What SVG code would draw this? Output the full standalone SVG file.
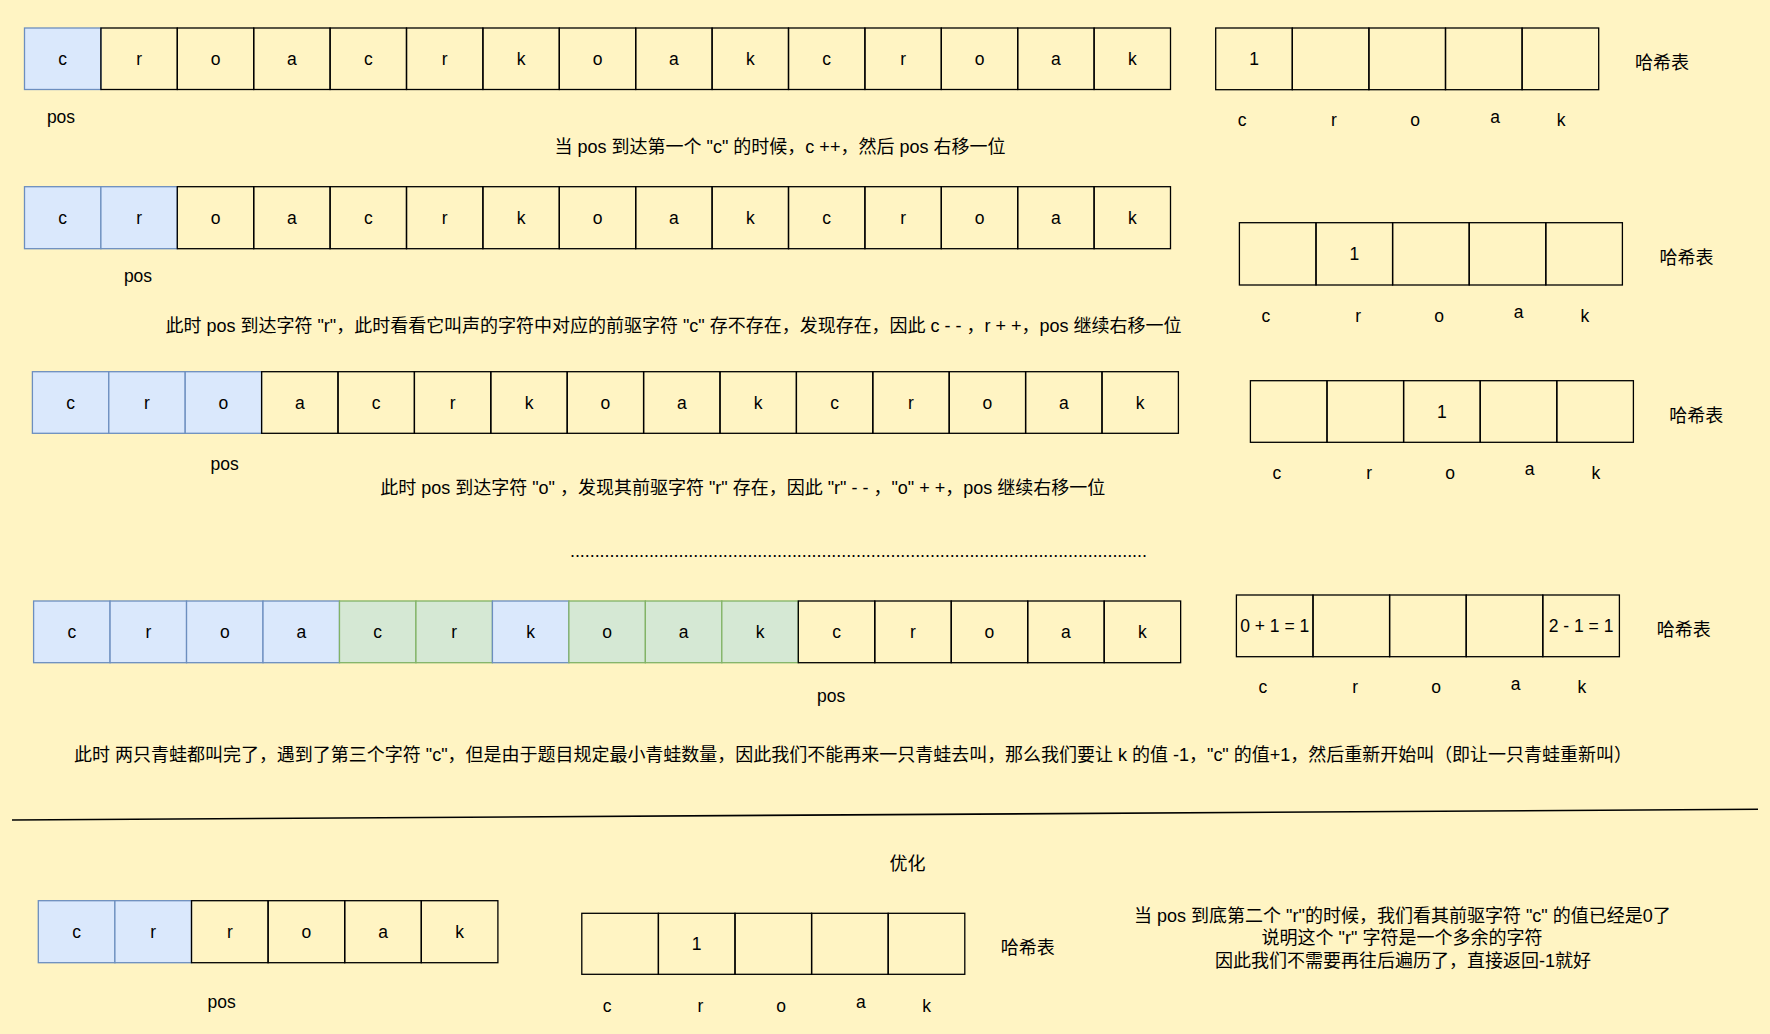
<svg xmlns="http://www.w3.org/2000/svg" width="1770" height="1034" viewBox="0 0 1770 1034">
<style>
text{font-family:"Liberation Sans","Noto Sans CJK SC",sans-serif;font-size:18px;fill:#000;text-anchor:middle}
.cl{font-size:17.5px}
.cell{fill:none;stroke:#000;stroke-width:1.3}
.blue{fill:#dae8fc;stroke:#6c8ebf;stroke-width:1.3}
.green{fill:#d5e8d4;stroke:#82b366;stroke-width:1.3}
.sep{stroke:#000;stroke-width:1.6;fill:none}
</style>
<rect width="1770" height="1034" fill="#fff4c3"/>

<!-- Row 1 -->
<g id="row1">
<g id="r1c1"><rect class="blue" x="24.5" y="28" width="76.4" height="61.5"/><text class="cl" x="62.7" y="65.3">c</text></g>
<g id="r1c2"><rect class="cell" x="100.9" y="28" width="76.4" height="61.5"/><text class="cl" x="139.1" y="65.3">r</text></g>
<g id="r1c3"><rect class="cell" x="177.3" y="28" width="76.4" height="61.5"/><text class="cl" x="215.5" y="65.3">o</text></g>
<g id="r1c4"><rect class="cell" x="253.7" y="28" width="76.4" height="61.5"/><text class="cl" x="291.9" y="65.3">a</text></g>
<g id="r1c5"><rect class="cell" x="330.1" y="28" width="76.4" height="61.5"/><text class="cl" x="368.3" y="65.3">c</text></g>
<g id="r1c6"><rect class="cell" x="406.5" y="28" width="76.4" height="61.5"/><text class="cl" x="444.7" y="65.3">r</text></g>
<g id="r1c7"><rect class="cell" x="482.9" y="28" width="76.4" height="61.5"/><text class="cl" x="521.1" y="65.3">k</text></g>
<g id="r1c8"><rect class="cell" x="559.3" y="28" width="76.4" height="61.5"/><text class="cl" x="597.5" y="65.3">o</text></g>
<g id="r1c9"><rect class="cell" x="635.7" y="28" width="76.4" height="61.5"/><text class="cl" x="673.9" y="65.3">a</text></g>
<g id="r1c10"><rect class="cell" x="712.1" y="28" width="76.4" height="61.5"/><text class="cl" x="750.3" y="65.3">k</text></g>
<g id="r1c11"><rect class="cell" x="788.5" y="28" width="76.4" height="61.5"/><text class="cl" x="826.7" y="65.3">c</text></g>
<g id="r1c12"><rect class="cell" x="864.9" y="28" width="76.4" height="61.5"/><text class="cl" x="903.1" y="65.3">r</text></g>
<g id="r1c13"><rect class="cell" x="941.3" y="28" width="76.4" height="61.5"/><text class="cl" x="979.5" y="65.3">o</text></g>
<g id="r1c14"><rect class="cell" x="1017.7" y="28" width="76.4" height="61.5"/><text class="cl" x="1055.9" y="65.3">a</text></g>
<g id="r1c15"><rect class="cell" x="1094.1" y="28" width="76.4" height="61.5"/><text class="cl" x="1132.3" y="65.3">k</text></g>
</g>
<g id="pos1"><text class="cl" x="61" y="123">pos</text></g>
<g id="note1"><text x="780" y="152.5">当 pos 到达第一个 "c" 的时候，c ++，然后 pos 右移一位</text></g>

<g id="hash1">
<g id="h1c1"><rect class="cell" x="1215.7" y="28" width="76.6" height="61.7"/><text class="cl" x="1254" y="65.3">1</text></g>
<g id="h1c2"><rect class="cell" x="1292.3" y="28" width="76.6" height="61.7"/></g>
<g id="h1c3"><rect class="cell" x="1368.9" y="28" width="76.6" height="61.7"/></g>
<g id="h1c4"><rect class="cell" x="1445.5" y="28" width="76.6" height="61.7"/></g>
<g id="h1c5"><rect class="cell" x="1522.1" y="28" width="76.6" height="61.7"/></g>
<text class="cl" x="1242" y="126">c</text><text class="cl" x="1334" y="126">r</text><text class="cl" x="1415" y="126">o</text><text class="cl" x="1495" y="122.5">a</text><text class="cl" x="1561" y="126">k</text>
<text x="1662" y="68.5">哈希表</text>
</g>

<!-- Row 2 -->
<g id="row2">
<g id="r2c1"><rect class="blue" x="24.5" y="186.7" width="76.4" height="62"/><text class="cl" x="62.7" y="224.2">c</text></g>
<g id="r2c2"><rect class="blue" x="100.9" y="186.7" width="76.4" height="62"/><text class="cl" x="139.1" y="224.2">r</text></g>
<g id="r2c3"><rect class="cell" x="177.3" y="186.7" width="76.4" height="62"/><text class="cl" x="215.5" y="224.2">o</text></g>
<g id="r2c4"><rect class="cell" x="253.7" y="186.7" width="76.4" height="62"/><text class="cl" x="291.9" y="224.2">a</text></g>
<g id="r2c5"><rect class="cell" x="330.1" y="186.7" width="76.4" height="62"/><text class="cl" x="368.3" y="224.2">c</text></g>
<g id="r2c6"><rect class="cell" x="406.5" y="186.7" width="76.4" height="62"/><text class="cl" x="444.7" y="224.2">r</text></g>
<g id="r2c7"><rect class="cell" x="482.9" y="186.7" width="76.4" height="62"/><text class="cl" x="521.1" y="224.2">k</text></g>
<g id="r2c8"><rect class="cell" x="559.3" y="186.7" width="76.4" height="62"/><text class="cl" x="597.5" y="224.2">o</text></g>
<g id="r2c9"><rect class="cell" x="635.7" y="186.7" width="76.4" height="62"/><text class="cl" x="673.9" y="224.2">a</text></g>
<g id="r2c10"><rect class="cell" x="712.1" y="186.7" width="76.4" height="62"/><text class="cl" x="750.3" y="224.2">k</text></g>
<g id="r2c11"><rect class="cell" x="788.5" y="186.7" width="76.4" height="62"/><text class="cl" x="826.7" y="224.2">c</text></g>
<g id="r2c12"><rect class="cell" x="864.9" y="186.7" width="76.4" height="62"/><text class="cl" x="903.1" y="224.2">r</text></g>
<g id="r2c13"><rect class="cell" x="941.3" y="186.7" width="76.4" height="62"/><text class="cl" x="979.5" y="224.2">o</text></g>
<g id="r2c14"><rect class="cell" x="1017.7" y="186.7" width="76.4" height="62"/><text class="cl" x="1055.9" y="224.2">a</text></g>
<g id="r2c15"><rect class="cell" x="1094.1" y="186.7" width="76.4" height="62"/><text class="cl" x="1132.3" y="224.2">k</text></g>
</g>
<g id="pos2"><text class="cl" x="138" y="281.5">pos</text></g>
<g id="note2"><text x="673.5" y="331.5" textLength="1016" lengthAdjust="spacing">此时 pos 到达字符 "r"，此时看看它叫声的字符中对应的前驱字符 "c" 存不存在，发现存在，因此 c - - ，r + +，pos 继续右移一位</text></g>

<g id="hash2">
<g id="h2c1"><rect class="cell" x="1239.4" y="222.7" width="76.6" height="62.3"/></g>
<g id="h2c2"><rect class="cell" x="1316" y="222.7" width="76.6" height="62.3"/><text class="cl" x="1354.3" y="260.3">1</text></g>
<g id="h2c3"><rect class="cell" x="1392.6" y="222.7" width="76.6" height="62.3"/></g>
<g id="h2c4"><rect class="cell" x="1469.2" y="222.7" width="76.6" height="62.3"/></g>
<g id="h2c5"><rect class="cell" x="1545.8" y="222.7" width="76.6" height="62.3"/></g>
<text class="cl" x="1265.8" y="321.7">c</text><text class="cl" x="1358.2" y="321.7">r</text><text class="cl" x="1439.2" y="321.7">o</text><text class="cl" x="1518.7" y="318.2">a</text><text class="cl" x="1584.9" y="321.7">k</text>
<text x="1686.4" y="264">哈希表</text>
</g>

<!-- Row 3 -->
<g id="row3">
<g id="r3c1"><rect class="blue" x="32.4" y="371.7" width="76.4" height="61.6"/><text class="cl" x="70.6" y="409">c</text></g>
<g id="r3c2"><rect class="blue" x="108.8" y="371.7" width="76.4" height="61.6"/><text class="cl" x="147" y="409">r</text></g>
<g id="r3c3"><rect class="blue" x="185.2" y="371.7" width="76.4" height="61.6"/><text class="cl" x="223.4" y="409">o</text></g>
<g id="r3c4"><rect class="cell" x="261.6" y="371.7" width="76.4" height="61.6"/><text class="cl" x="299.8" y="409">a</text></g>
<g id="r3c5"><rect class="cell" x="338" y="371.7" width="76.4" height="61.6"/><text class="cl" x="376.2" y="409">c</text></g>
<g id="r3c6"><rect class="cell" x="414.4" y="371.7" width="76.4" height="61.6"/><text class="cl" x="452.6" y="409">r</text></g>
<g id="r3c7"><rect class="cell" x="490.8" y="371.7" width="76.4" height="61.6"/><text class="cl" x="529" y="409">k</text></g>
<g id="r3c8"><rect class="cell" x="567.2" y="371.7" width="76.4" height="61.6"/><text class="cl" x="605.4" y="409">o</text></g>
<g id="r3c9"><rect class="cell" x="643.6" y="371.7" width="76.4" height="61.6"/><text class="cl" x="681.8" y="409">a</text></g>
<g id="r3c10"><rect class="cell" x="720" y="371.7" width="76.4" height="61.6"/><text class="cl" x="758.2" y="409">k</text></g>
<g id="r3c11"><rect class="cell" x="796.4" y="371.7" width="76.4" height="61.6"/><text class="cl" x="834.6" y="409">c</text></g>
<g id="r3c12"><rect class="cell" x="872.8" y="371.7" width="76.4" height="61.6"/><text class="cl" x="911" y="409">r</text></g>
<g id="r3c13"><rect class="cell" x="949.2" y="371.7" width="76.4" height="61.6"/><text class="cl" x="987.4" y="409">o</text></g>
<g id="r3c14"><rect class="cell" x="1025.6" y="371.7" width="76.4" height="61.6"/><text class="cl" x="1063.8" y="409">a</text></g>
<g id="r3c15"><rect class="cell" x="1102" y="371.7" width="76.4" height="61.6"/><text class="cl" x="1140.2" y="409">k</text></g>
</g>
<g id="pos3"><text class="cl" x="224.7" y="470">pos</text></g>
<g id="note3"><text x="742.7" y="493.5" textLength="725" lengthAdjust="spacing">此时 pos 到达字符 "o" ，发现其前驱字符 "r" 存在，因此 "r" - - ，"o" + +，pos 继续右移一位</text></g>

<g id="hash3">
<g id="h3c1"><rect class="cell" x="1250.4" y="380.7" width="76.6" height="61.6"/></g>
<g id="h3c2"><rect class="cell" x="1327" y="380.7" width="76.6" height="61.6"/></g>
<g id="h3c3"><rect class="cell" x="1403.6" y="380.7" width="76.6" height="61.6"/><text class="cl" x="1441.9" y="418">1</text></g>
<g id="h3c4"><rect class="cell" x="1480.2" y="380.7" width="76.6" height="61.6"/></g>
<g id="h3c5"><rect class="cell" x="1556.8" y="380.7" width="76.6" height="61.6"/></g>
<text class="cl" x="1276.8" y="478.8">c</text><text class="cl" x="1369.2" y="478.8">r</text><text class="cl" x="1450.2" y="478.8">o</text><text class="cl" x="1529.7" y="475.3">a</text><text class="cl" x="1595.9" y="478.8">k</text>
<text x="1696.3" y="421.8">哈希表</text>
</g>

<g id="ellipsis"><text x="858.5" y="557" textLength="577" lengthAdjust="spacing">.....................................................................................................................</text></g>

<!-- Row 4 -->
<g id="row4">
<g id="r4c1"><rect class="blue" x="33.6" y="601" width="76.47" height="61.7"/><text class="cl" x="71.84" y="638.4">c</text></g>
<g id="r4c2"><rect class="blue" x="110.07" y="601" width="76.47" height="61.7"/><text class="cl" x="148.31" y="638.4">r</text></g>
<g id="r4c3"><rect class="blue" x="186.54" y="601" width="76.47" height="61.7"/><text class="cl" x="224.78" y="638.4">o</text></g>
<g id="r4c4"><rect class="blue" x="263.01" y="601" width="76.47" height="61.7"/><text class="cl" x="301.25" y="638.4">a</text></g>
<g id="r4c5"><rect class="green" x="339.48" y="601" width="76.47" height="61.7"/><text class="cl" x="377.72" y="638.4">c</text></g>
<g id="r4c6"><rect class="green" x="415.95" y="601" width="76.47" height="61.7"/><text class="cl" x="454.19" y="638.4">r</text></g>
<g id="r4c7"><rect class="blue" x="492.42" y="601" width="76.47" height="61.7"/><text class="cl" x="530.66" y="638.4">k</text></g>
<g id="r4c8"><rect class="green" x="568.89" y="601" width="76.47" height="61.7"/><text class="cl" x="607.13" y="638.4">o</text></g>
<g id="r4c9"><rect class="green" x="645.36" y="601" width="76.47" height="61.7"/><text class="cl" x="683.6" y="638.4">a</text></g>
<g id="r4c10"><rect class="green" x="721.83" y="601" width="76.47" height="61.7"/><text class="cl" x="760.07" y="638.4">k</text></g>
<g id="r4c11"><rect class="cell" x="798.3" y="601" width="76.47" height="61.7"/><text class="cl" x="836.54" y="638.4">c</text></g>
<g id="r4c12"><rect class="cell" x="874.77" y="601" width="76.47" height="61.7"/><text class="cl" x="913.01" y="638.4">r</text></g>
<g id="r4c13"><rect class="cell" x="951.24" y="601" width="76.47" height="61.7"/><text class="cl" x="989.48" y="638.4">o</text></g>
<g id="r4c14"><rect class="cell" x="1027.71" y="601" width="76.47" height="61.7"/><text class="cl" x="1065.95" y="638.4">a</text></g>
<g id="r4c15"><rect class="cell" x="1104.18" y="601" width="76.47" height="61.7"/><text class="cl" x="1142.42" y="638.4">k</text></g>
</g>
<g id="pos4"><text class="cl" x="831.2" y="702">pos</text></g>

<g id="hash4">
<g id="h4c1"><rect class="cell" x="1236.4" y="595" width="76.6" height="61.7"/><text class="cl" x="1274.7" y="632.3">0 + 1 = 1</text></g>
<g id="h4c2"><rect class="cell" x="1313" y="595" width="76.6" height="61.7"/></g>
<g id="h4c3"><rect class="cell" x="1389.6" y="595" width="76.6" height="61.7"/></g>
<g id="h4c4"><rect class="cell" x="1466.2" y="595" width="76.6" height="61.7"/></g>
<g id="h4c5"><rect class="cell" x="1542.8" y="595" width="76.6" height="61.7"/><text class="cl" x="1581.1" y="632.3">2 - 1 = 1</text></g>
<text class="cl" x="1262.8" y="693.3">c</text><text class="cl" x="1355.2" y="693.3">r</text><text class="cl" x="1436.2" y="693.3">o</text><text class="cl" x="1515.7" y="689.8">a</text><text class="cl" x="1581.9" y="693.3">k</text>
<text x="1683.8" y="635.7">哈希表</text>
</g>
<g id="note4"><text x="853" y="761" textLength="1558" lengthAdjust="spacing">此时 两只青蛙都叫完了，遇到了第三个字符 "c"，但是由于题目规定最小青蛙数量，因此我们不能再来一只青蛙去叫，那么我们要让 k 的值 -1，"c" 的值+1，然后重新开始叫（即让一只青蛙重新叫）</text></g>

<g id="separator"><line class="sep" x1="12" y1="820" x2="1758" y2="809.3"/></g>

<g id="title-opt"><text x="907.5" y="869.5">优化</text></g>

<!-- Row 5 -->
<g id="row5">
<g id="r5c1"><rect class="blue" x="38.3" y="900.7" width="76.6" height="62"/><text class="cl" x="76.6" y="938.2">c</text></g>
<g id="r5c2"><rect class="blue" x="114.9" y="900.7" width="76.6" height="62"/><text class="cl" x="153.2" y="938.2">r</text></g>
<g id="r5c3"><rect class="cell" x="191.5" y="900.7" width="76.6" height="62"/><text class="cl" x="229.8" y="938.2">r</text></g>
<g id="r5c4"><rect class="cell" x="268.1" y="900.7" width="76.6" height="62"/><text class="cl" x="306.4" y="938.2">o</text></g>
<g id="r5c5"><rect class="cell" x="344.7" y="900.7" width="76.6" height="62"/><text class="cl" x="383" y="938.2">a</text></g>
<g id="r5c6"><rect class="cell" x="421.3" y="900.7" width="76.6" height="62"/><text class="cl" x="459.6" y="938.2">k</text></g>
</g>
<g id="pos5"><text class="cl" x="221.7" y="1007.5">pos</text></g>

<g id="hash5">
<g id="h5c1"><rect class="cell" x="581.8" y="913.3" width="76.6" height="61"/></g>
<g id="h5c2"><rect class="cell" x="658.4" y="913.3" width="76.6" height="61"/><text class="cl" x="696.7" y="950.3">1</text></g>
<g id="h5c3"><rect class="cell" x="735" y="913.3" width="76.6" height="61"/></g>
<g id="h5c4"><rect class="cell" x="811.6" y="913.3" width="76.6" height="61"/></g>
<g id="h5c5"><rect class="cell" x="888.2" y="913.3" width="76.6" height="61"/></g>
<text class="cl" x="607" y="1011.7">c</text><text class="cl" x="700.4" y="1011.7">r</text><text class="cl" x="781.2" y="1011.7">o</text><text class="cl" x="860.8" y="1008.2">a</text><text class="cl" x="926.6" y="1011.7">k</text>
<text x="1027.7" y="953.5">哈希表</text>
</g>

<g id="note5">
<text x="1402.4" y="921.5">当 pos 到底第二个 "r"的时候，我们看其前驱字符 "c" 的值已经是0了</text>
<text x="1402" y="944">说明这个 "r" 字符是一个多余的字符</text>
<text x="1403" y="966.5">因此我们不需要再往后遍历了，直接返回-1就好</text>
</g>

<g id="connectors"></g>
</svg>
